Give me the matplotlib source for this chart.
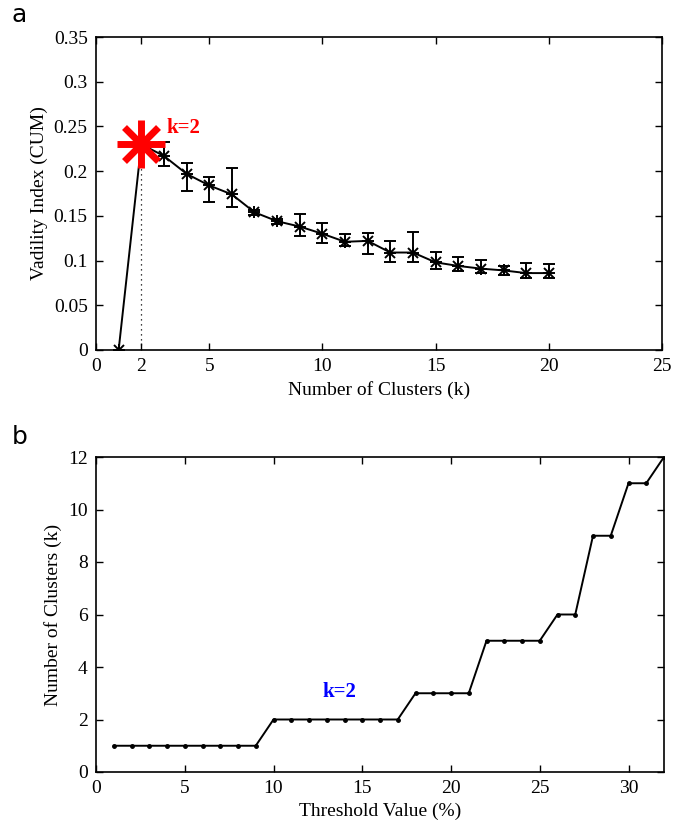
import numpy as np
import matplotlib
matplotlib.use("Agg")
import matplotlib.pyplot as plt

plt.rcParams["font.family"] = ["Liberation Serif", "DejaVu Serif"]
plt.rcParams["mathtext.fontset"] = "stix"

# validity index vs number of clusters
k = [1, 2, 3, 4, 5, 6, 7, 8, 9, 10, 11, 12, 13, 14, 15, 16, 17, 18, 19, 20]
cum = [0.0, 0.23, 0.217, 0.197, 0.184, 0.174, 0.154, 0.144, 0.138, 0.130,
       0.121, 0.122, 0.109, 0.109, 0.098, 0.094, 0.091, 0.089, 0.086, 0.086]
err_lo = [0.0, 0.0, 0.011, 0.019, 0.019, 0.014, 0.003, 0.003, 0.010, 0.010,
          0.005, 0.015, 0.011, 0.011, 0.007, 0.006, 0.005, 0.005, 0.005, 0.006]
err_hi = [0.0, 0.0, 0.016, 0.012, 0.009, 0.030, 0.003, 0.003, 0.014, 0.012,
          0.009, 0.009, 0.013, 0.023, 0.012, 0.010, 0.010, 0.005, 0.011, 0.010]

# number of clusters vs threshold
thr = list(range(1, 33))
nclust = [1, 1, 1, 1, 1, 1, 1, 1, 1,
          2, 2, 2, 2, 2, 2, 2, 2,
          3, 3, 3, 3,
          5, 5, 5, 5,
          6, 6, 9, 9, 11, 11, 12]

fig = plt.figure(figsize=(6.92, 8.36), dpi=100)
ax1 = fig.add_axes([96 / 692, 1 - 350 / 836, 566 / 692, 313 / 836])
ax2 = fig.add_axes([96 / 692, 1 - 772 / 836, 568 / 692, 315 / 836])

# top panel
ax1.plot([2, 2], [0, cum[1]], color="k", linestyle=(0, (1, 3)), linewidth=0.9)
ax1.errorbar(k, cum, yerr=[err_lo, err_hi], color="k", linewidth=1.4,
             elinewidth=1.4, capsize=4, capthick=1.4, zorder=3)
for m, ms in (("+", 9), ("x", 7)):
    ax1.plot(k, cum, linestyle="none", marker=m, markersize=ms,
             markeredgewidth=1.4, color="k", zorder=4)
ax1.plot([2], [cum[1]], marker="+", markersize=34, markeredgewidth=5,
         color="red", linestyle="none", zorder=5)
ax1.plot([2], [cum[1]], marker="x", markersize=25, markeredgewidth=5,
         color="red", linestyle="none", zorder=5)
ax1.text(3.1, 0.248, "k=2", color="red", fontsize=15, fontweight="bold",
         ha="left", va="center")
ax1.set_xlim(0, 25)
ax1.set_ylim(0, 0.35)
ax1.set_xticks([0, 2, 5, 10, 15, 20, 25])
ax1.set_xticklabels(["0", "2", "5", "10", "15", "20", "25"])
ax1.set_yticks(np.arange(0, 0.351, 0.05))
ax1.set_yticklabels(["0", "0.05", "0.1", "0.15", "0.2", "0.25", "0.3", "0.35"])
ax1.set_xlabel("Number of Clusters (k)", fontsize=14)
ax1.set_ylabel("Vadility Index (CUM)", fontsize=14)

# bottom panel
ax2.plot(thr, nclust, color="k", linewidth=1.4, marker="o", markersize=2.5)
ax2.text(13.7, 3.05, "k=2", color="blue", fontsize=15, fontweight="bold",
         ha="center", va="center")
ax2.set_xlim(0, 32)
ax2.set_ylim(0, 12)
ax2.set_xticks([0, 5, 10, 15, 20, 25, 30])
ax2.set_yticks([0, 2, 4, 6, 8, 10, 12])
ax2.set_xlabel("Threshold Value (%)", fontsize=14)
ax2.set_ylabel("Number of Clusters (k)", fontsize=14)

for ax in (ax1, ax2):
    ax.tick_params(direction="in", top=True, right=True, length=5,
                   width=1, labelsize=14, pad=6)
    for s in ax.spines.values():
        s.set_linewidth(1.2)

fig.text(12 / 692, 1 - 15 / 836, "a", fontsize=18, family="DejaVu Sans",
         ha="left", va="center")
fig.text(12 / 692, 1 - 437 / 836, "b", fontsize=18, family="DejaVu Sans",
         ha="left", va="center")

fig.savefig("out.png", dpi=100)
